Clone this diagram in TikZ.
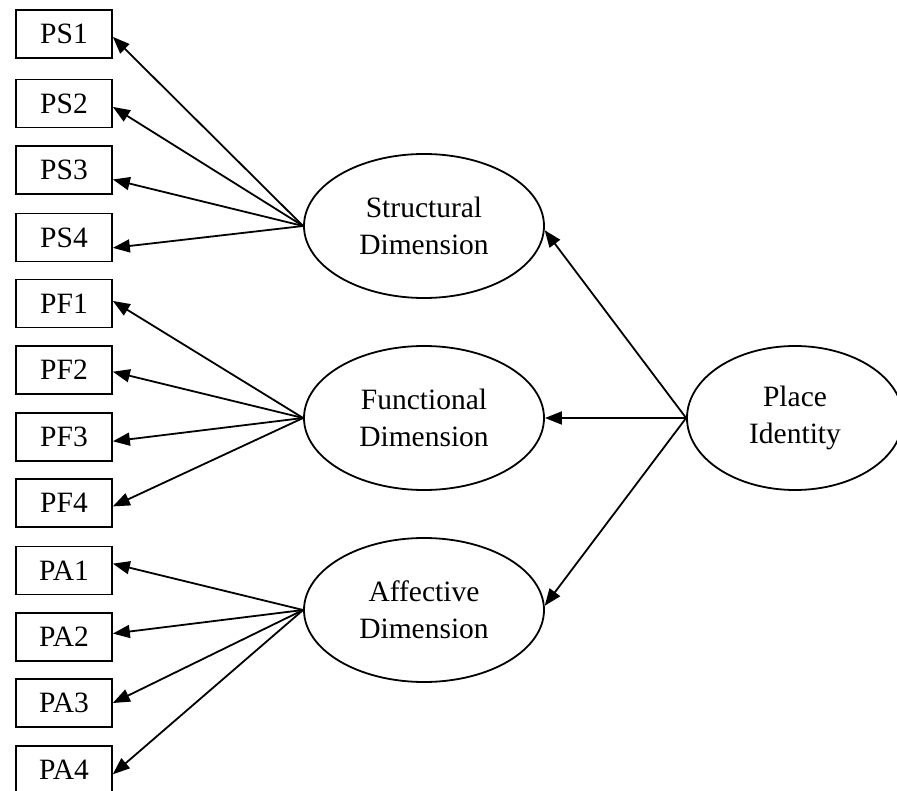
\documentclass[tikz,border=0pt]{standalone}
\usepackage{fontspec}
\setmainfont{Liberation Serif}
\usetikzlibrary{shapes.geometric,arrows.meta}

\tikzset{
  indicator/.style={draw, line width=1.7pt, minimum width=96pt, minimum height=48pt,
    inner sep=0pt, font=\fontsize{29.5}{37.5}\selectfont},
  latent/.style={draw, ellipse, line width=1.8pt, minimum width=240pt, minimum height=144pt,
    inner sep=0pt, align=center, font=\fontsize{29.5}{37.5}\selectfont},
  path/.style={line width=1.8pt, -{Triangle[length=17pt,width=13pt]}}
}

\begin{document}
\begin{tikzpicture}[x=1pt,y=-1pt]
  \useasboundingbox (0,0) rectangle (897,791);
  \clip (0,0) rectangle (897,791);

  % observed indicators
  \node[indicator] (ps1) at (64,34.3) {PS1};
  \node[indicator] (ps2) at (64,103.5) {PS2};
  \node[indicator] (ps3) at (64,170) {PS3};
  \node[indicator] (ps4) at (64,237.5) {PS4};
  \node[indicator] (pf1) at (64,303.5) {PF1};
  \node[indicator] (pf2) at (64,370) {PF2};
  \node[indicator] (pf3) at (64,437) {PF3};
  \node[indicator] (pf4) at (64,503) {PF4};
  \node[indicator] (pa1) at (64,570.5) {PA1};
  \node[indicator] (pa2) at (64,637) {PA2};
  \node[indicator] (pa3) at (64,703) {PA3};
  \node[indicator] (pa4) at (64,770) {PA4};

  % first-order factors
  \node[latent] (sd) at (424,226) {Structural\\Dimension};
  \node[latent] (fd) at (424,418) {Functional\\Dimension};
  \node[latent] (ad) at (424,610) {Affective\\Dimension};

  % second-order factor
  \node[latent, minimum width=216pt] (pi) at (795,418) {Place\\Identity};

  % loadings
  \draw[path] (sd.west) -- (ps1.-3.6);
  \draw[path] (sd.west) -- (ps2.-4);
  \draw[path] (sd.west) -- (ps3.-11.8);
  \draw[path] (sd.west) -- (ps4.-12.3);

  \draw[path] (fd.west) -- (pf1.3.6);
  \draw[path] (fd.west) -- (pf2.-2);
  \draw[path] (fd.west) -- (pf3.-5.6);
  \draw[path] (fd.west) -- (pf4.-4.8);

  \draw[path] (ad.west) -- (pa1.8.9);
  \draw[path] (ad.west) -- (pa2.4.8);
  \draw[path] (ad.west) -- (pa3.east);
  \draw[path] (ad.west) -- (pa4.-5.4);

  \draw[path] (pi.west) -- (sd.-2);
  \draw[path] (pi.west) -- (fd.east);
  \draw[path] (pi.west) -- (ad.2);
\end{tikzpicture}
\end{document}
